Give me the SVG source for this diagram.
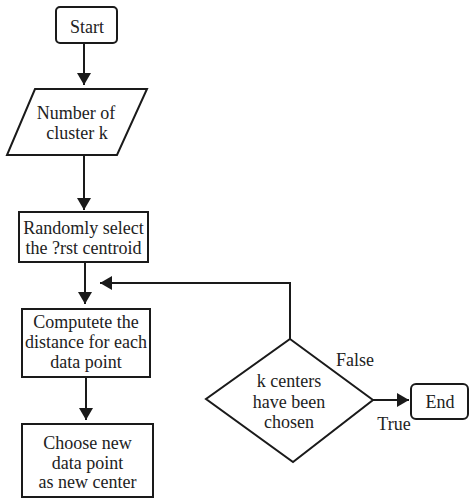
<svg xmlns="http://www.w3.org/2000/svg" width="469" height="499" viewBox="0 0 469 499">
<defs>
<marker id="arr" markerUnits="userSpaceOnUse" markerWidth="14" markerHeight="14" refX="12" refY="7" orient="auto">
<path d="M0,0 L12,7 L0,14 z" fill="#1a1a1a"/>
</marker>
<style>
.shape{fill:#fff;stroke:#1a1a1a;stroke-width:2}
.conn{fill:none;stroke:#1a1a1a;stroke-width:2;marker-end:url(#arr)}
.t{font-family:'Liberation Serif','Times New Roman',serif;font-size:18px;fill:#222;text-anchor:middle}
</style>
</defs>
<rect width="469" height="499" fill="#fff"/>
<g id="connectors">
<line class="conn" x1="84" y1="43" x2="84" y2="85"/>
<line class="conn" x1="84" y1="155" x2="84" y2="210"/>
<line class="conn" x1="85" y1="262" x2="85" y2="304"/>
<line class="conn" x1="86" y1="377" x2="86" y2="420"/>
<polyline class="conn" points="290,339 290,283 100,283"/>
<line class="conn" x1="373" y1="400" x2="409" y2="400"/>
</g>
<g id="start">
<rect class="shape" x="56" y="7" width="61" height="36" rx="4"/>
<text class="t" x="87" y="33">Start</text>
</g>
<g id="input">
<polygon class="shape" points="35,89 147,89 117,155 7,155"/>
<text class="t" x="76" y="119">Number of</text>
<text class="t" x="77" y="139">cluster k</text>
</g>
<g id="select">
<rect class="shape" x="19" y="212" width="129" height="50"/>
<text class="t" x="83.5" y="234">Randomly select</text>
<text class="t" x="83.5" y="254">the ?rst centroid</text>
</g>
<g id="compute">
<rect class="shape" x="22" y="309" width="128" height="68"/>
<text class="t" x="86" y="328">Computete the</text>
<text class="t" x="86" y="348">distance for each</text>
<text class="t" x="86" y="368">data point</text>
</g>
<g id="choose">
<rect class="shape" x="22" y="424" width="131" height="73"/>
<text class="t" x="87.5" y="449">Choose new</text>
<text class="t" x="87.5" y="469">data point</text>
<text class="t" x="87.5" y="488">as new center</text>
</g>
<g id="decision">
<polygon class="shape" points="290,339 373,400 293,462 206,399"/>
<text class="t" x="289" y="387">k centers</text>
<text class="t" x="289" y="408">have been</text>
<text class="t" x="289" y="428">chosen</text>
</g>
<g id="end">
<rect class="shape" x="411" y="384" width="57" height="35" rx="5"/>
<text class="t" x="440" y="408">End</text>
</g>
<g id="labels">
<text class="t" x="355" y="366">False</text>
<text class="t" x="394" y="430">True</text>
</g>
</svg>
